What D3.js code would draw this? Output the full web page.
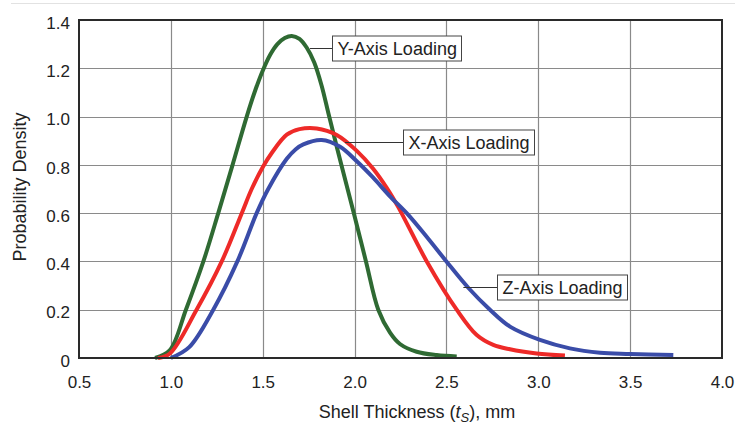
<!DOCTYPE html>
<html><head><meta charset="utf-8">
<script src="https://cdn.jsdelivr.net/npm/d3@7"></script>
<style>body{margin:0;background:#fff}svg{display:block}text{font-family:"Liberation Sans",Arial,sans-serif;fill:#222}</style>
</head><body><svg id="c" width="735" height="425"></svg>
<script>
const xTicks = [0.5,1.0,1.5,2.0,2.5,3.0,3.5,4.0];
const yTicks = [0,0.2,0.4,0.6,0.8,1.0,1.2,1.4];

const yAxisX = [0.914,0.995,1.082,1.177,1.258,1.336,1.413,1.46,1.50,1.54,1.58,1.62,1.658,1.70,1.74,1.78,1.82,1.862,1.928,1.996,2.062,2.129,2.193,2.247,2.338,2.447,2.556];
const yAxisY = [0,0.033,0.2,0.4,0.6,0.8,1.0,1.11,1.19,1.255,1.30,1.325,1.334,1.322,1.285,1.225,1.13,1.0,0.8,0.6,0.4,0.2,0.105,0.058,0.026,0.012,0.006];

const xAxisX = [0.93,0.995,1.14,1.277,1.386,1.44,1.50,1.55,1.631,1.70,1.794,1.903,2.012,2.10,2.175,2.238,2.393,2.556,2.665,2.755,2.846,2.991,3.145];
const xAxisY = [0,0.019,0.2,0.4,0.6,0.70,0.79,0.85,0.925,0.948,0.951,0.924,0.858,0.785,0.705,0.625,0.4,0.2,0.095,0.054,0.036,0.019,0.01];

const zAxisX = [1.0,1.1,1.231,1.362,1.467,1.53,1.631,1.68,1.721,1.821,1.921,2.012,2.10,2.19,2.29,2.40,2.50,2.62,2.737,2.846,3.009,3.172,3.336,3.50,3.735];
const zAxisY = [0,0.045,0.2,0.4,0.6,0.70,0.825,0.865,0.885,0.903,0.875,0.815,0.748,0.672,0.595,0.495,0.40,0.29,0.2,0.13,0.075,0.040,0.022,0.017,0.012];

const seriesNames = ["Y-Axis Loading","X-Axis Loading","Z-Axis Loading"];
const seriesColors = ["#2f6a33","#ee2a28","#3a4ca8"];

const W=735,H=425,m={l:79,t:20,r:13,b:67};
const svg=d3.select("#c");
const x=d3.scaleLinear().domain([0.5,4.0]).range([m.l,W-m.r]);
const y=d3.scaleLinear().domain([0,1.4]).range([H-m.b,m.t]);

svg.append("line").attr("x1",11).attr("x2",W).attr("y1",3.5).attr("y2",3.5).attr("stroke","#e2e2e2").attr("stroke-width",1);

// grid
const g=svg.append("g");
g.selectAll(".vx").data(xTicks.slice(1,-1)).join("line")
 .attr("x1",d=>Math.round(x(d))+0.5).attr("x2",d=>Math.round(x(d))+0.5)
 .attr("y1",y(1.4)).attr("y2",y(0)).attr("stroke","#8a8a8a").attr("stroke-width",1.2);
g.selectAll(".hy").data(yTicks.slice(1,-1)).join("line")
 .attr("y1",d=>Math.round(y(d))+0.5).attr("y2",d=>Math.round(y(d))+0.5)
 .attr("x1",x(0.5)).attr("x2",x(4.0)).attr("stroke","#8a8a8a").attr("stroke-width",1.2);

// axes labels
const xa=svg.append("g").attr("transform",`translate(0,${y(0)})`)
 .call(d3.axisBottom(x).tickValues(xTicks).tickSize(0).tickPadding(18).tickFormat(d3.format(".1f")));
xa.select(".domain").remove();
xa.selectAll("text").attr("font-size",17).style("fill","#222");
const ya=svg.append("g").attr("transform",`translate(${x(0.5)},0)`)
 .call(d3.axisLeft(y).tickValues(yTicks).tickSize(0).tickPadding(9).tickFormat(d=>d===0?"0":d3.format(".1f")(d)));
ya.select(".domain").remove();
ya.selectAll("text").attr("font-size",17).attr("dy","0.48em").style("fill","#222");

// curves
const line=d3.line().x(d=>x(d[0])).y(d=>y(d[1])).curve(d3.curveCatmullRom.alpha(0.5));
const series=[[yAxisX,yAxisY],[xAxisX,xAxisY],[zAxisX,zAxisY]];
series.forEach((s,i)=>{
  const pts=s[0].map((v,j)=>[v,s[1][j]]);
  svg.append("path").attr("d",line(pts)).attr("fill","none")
   .attr("stroke",seriesColors[i]).attr("stroke-width",4).attr("stroke-linejoin","round");
});

// frame
svg.append("rect").attr("x",x(0.5)).attr("y",y(1.4)).attr("width",x(4)-x(0.5)).attr("height",y(0)-y(1.4))
 .attr("fill","none").attr("stroke","#2a2a2a").attr("stroke-width",2);

// callouts
const callouts=[
  {name:seriesNames[0],lx:1.757,ly:1.285,bx:1.877},
  {name:seriesNames[1],lx:1.948,ly:0.893,bx:2.265},
  {name:seriesNames[2],lx:2.592,ly:0.296,bx:2.777}
];
callouts.forEach(c=>{
  const gx=svg.append("g");
  const bx=Math.round(x(c.bx))+0.5, cy=Math.round(y(c.ly))+0.5;
  const t=gx.append("text").attr("x",bx+5).attr("y",cy+6.5).attr("font-size",18).text(c.name);
  const bb=t.node().getBBox();
  gx.insert("rect","text").attr("x",bx).attr("y",cy-12.5).attr("width",Math.round(bb.width+10)).attr("height",25)
   .attr("fill","#fff").attr("stroke","#444").attr("stroke-width",1);
  gx.insert("line","rect").attr("x1",x(c.lx)).attr("x2",bx).attr("y1",cy).attr("y2",cy)
   .attr("stroke","#333").attr("stroke-width",1);
});

// titles
const xt=svg.append("text").attr("x",417).attr("y",418).attr("text-anchor","middle").attr("font-size",18);
xt.append("tspan").text("Shell Thickness (");
xt.append("tspan").attr("font-style","italic").text("t");
xt.append("tspan").attr("font-style","italic").attr("font-size",13).attr("dy",4).text("S");
xt.append("tspan").attr("dy",-4).text("), mm");
svg.append("text").attr("transform",`translate(26,187) rotate(-90)`).attr("text-anchor","middle").attr("font-size",18).text("Probability Density");
</script></body></html>
